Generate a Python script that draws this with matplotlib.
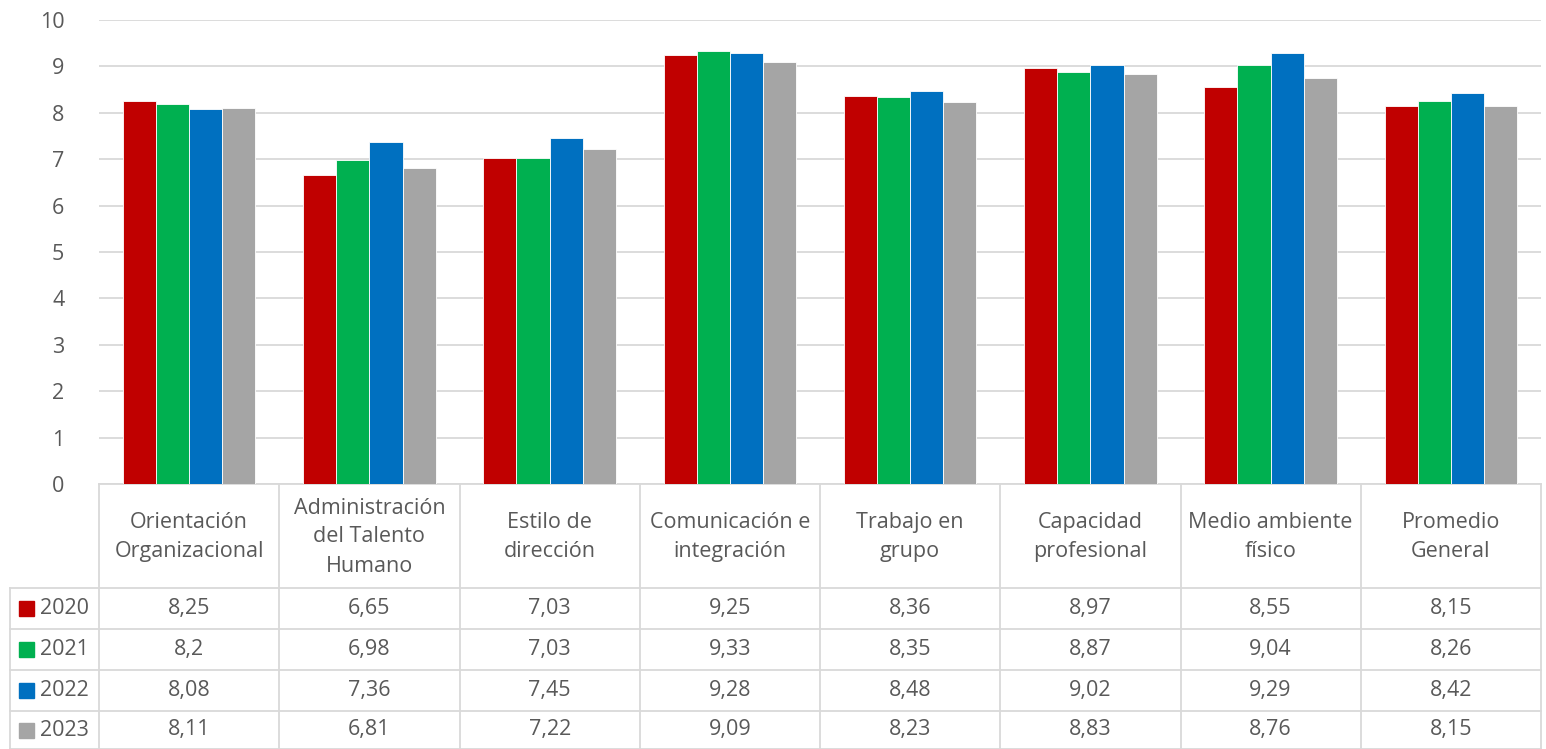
import matplotlib.pyplot as plt
import matplotlib.transforms as mtransforms
import numpy as np

# Datos
categorias = ['Orientación\nOrganizacional', 'Administración\ndel Talento\nHumano',
              'Estilo de\ndirección', 'Comunicación e\nintegración', 'Trabajo en\ngrupo',
              'Capacidad\nprofesional', 'Medio ambiente\nfísico', 'Promedio\nGeneral']
anios = ['2020', '2021', '2022', '2023']
v2020 = [8.25, 6.65, 7.03, 9.25, 8.36, 8.97, 8.55, 8.15]
v2021 = [8.2, 6.98, 7.03, 9.33, 8.35, 8.87, 9.04, 8.26]
v2022 = [8.08, 7.36, 7.45, 9.28, 8.48, 9.02, 9.29, 8.42]
v2023 = [8.11, 6.81, 7.22, 9.09, 8.23, 8.83, 8.76, 8.15]
series = [v2020, v2021, v2022, v2023]
colores = ['#C00000', '#00B050', '#0070C0', '#A5A5A5']

W, H = 1546, 749
plt.rcParams['font.family'] = ['Open Sans', 'DejaVu Sans']
txt = '#595959'
linea = '#D9D9D9'
fs = 15.5

fig = plt.figure(figsize=(W / 100, H / 100), dpi=100)
x0, x1, ytop, ybot = 99, 1541, 20, 484
ax = fig.add_axes([x0 / W, 1 - ybot / H, (x1 - x0) / W, (ybot - ytop) / H])

n = len(categorias)
x = np.arange(n) + 0.5
ancho = 0.184
for i, (vals, c) in enumerate(zip(series, colores)):
    ax.bar(x + (i - 1.5) * ancho, vals, ancho, color=c, edgecolor='white',
           linewidth=0.6, zorder=3)

ax.set_xlim(0, n)
ax.set_ylim(0, 10)
ax.set_yticks(range(0, 11))
ax.tick_params(axis='y', length=0, pad=25, labelsize=fs, labelcolor=txt)
ax.tick_params(axis='x', length=0, labelbottom=False)
ax.grid(True, axis='y', color=linea, linewidth=1.3, zorder=0)
for s in ['top', 'right', 'left']:
    ax.spines[s].set_visible(False)
ax.spines['bottom'].set_color(linea)
ax.spines['bottom'].set_linewidth(1.3)

# Tabla de datos debajo del grafico (x en datos, y en pixeles de figura)
tr = mtransforms.blended_transform_factory(ax.transData, fig.transFigure)
def fy(py):
    return 1 - py / H

px_per_unit = (x1 - x0) / n
xleg = (10 - x0) / px_per_unit
filas = [588, 629, 670, 711, 749]
kw = dict(transform=tr, color=linea, linewidth=1.3, clip_on=False)

for k in range(n + 1):
    ax.plot([k, k], [fy(ybot), fy(H)], **kw)
ax.plot([xleg, xleg], [fy(filas[0]), fy(H)], **kw)
for py in filas:
    ax.plot([xleg, n], [fy(py), fy(py)], **kw)

for k, cat in enumerate(categorias):
    ax.text(k + 0.5, fy((ybot + filas[0]) / 2 + 1), cat, transform=tr, ha='center',
            va='center', fontsize=fs, color=txt, linespacing=1.5)

for r, (anio, vals, c) in enumerate(zip(anios, series, colores)):
    yc = fy((filas[r] + filas[r + 1]) / 2)
    sq = (19 - x0) / px_per_unit
    ax.add_patch(plt.Rectangle((sq, yc - 7.5 / H), 15 / px_per_unit, 15 / H,
                               transform=tr, color=c, clip_on=False))
    ax.text((40 - x0) / px_per_unit, yc, anio, transform=tr, ha='left', va='center',
            fontsize=fs, color=txt)
    for k, v in enumerate(vals):
        ax.text(k + 0.5, yc, str(v).replace('.', ','), transform=tr, ha='center',
                va='center', fontsize=fs, color=txt)

fig.savefig('out.png', dpi=100)
